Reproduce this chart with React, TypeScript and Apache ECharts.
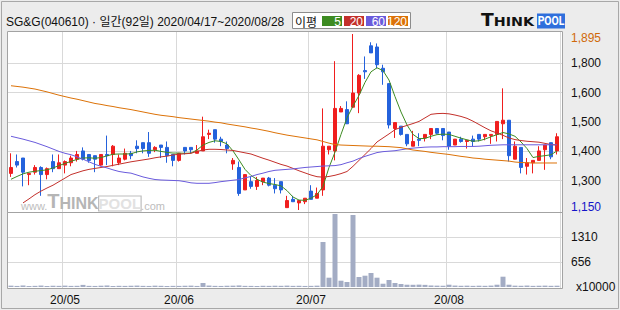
import { useEffect, useRef } from 'react';
import * as echarts from 'echarts';

// ---------------- data ----------------
const DATES = [
  '04/17','04/20','04/21','04/22','04/23','04/24','04/27','04/28','04/29',
  '05/04','05/06','05/07','05/08','05/11','05/12','05/13','05/14','05/15','05/18','05/19','05/20','05/21','05/22','05/25','05/26','05/27','05/28','05/29',
  '06/01','06/02','06/03','06/04','06/05','06/08','06/09','06/10','06/11','06/12','06/15','06/16','06/17','06/18','06/19','06/22','06/23','06/24','06/25','06/26','06/29','06/30',
  '07/01','07/02','07/03','07/06','07/07','07/08','07/09','07/10','07/13','07/14','07/15','07/16','07/17','07/20','07/21','07/22','07/23','07/24','07/27','07/28','07/29','07/30','07/31',
  '08/03','08/04','08/05','08/06','08/07','08/10','08/11','08/12','08/13','08/14','08/18','08/19','08/20','08/21','08/24','08/25','08/26','08/27','08/28',
];

const OPEN = [
  1305,1355,1370,1300,1310,1330,1300,1355,1325,1340,
  1350,1365,1400,1385,1380,1340,1385,1385,1350,1365,
  1390,1420,1435,1435,1405,1425,1415,1385,1360,1415,
  1415,1390,1400,1470,1490,1450,1425,1345,1330,1235,
  1270,1250,1270,1285,1255,1270,1160,1195,1180,1185,
  1230,1200,1235,1405,1400,1565,1575,1585,1645,1740,
  1845,1840,1750,1685,1495,1505,1470,1420,1450,1455,
  1470,1495,1495,1480,1425,1450,1440,1450,1470,1460,
  1465,1470,1515,1530,1365,1415,1335,1350,1360,1405,
  1435,1400,
];
const CLOSE = [
  1330,1340,1310,1305,1330,1300,1325,1325,1350,1355,
  1370,1385,1365,1360,1365,1385,1380,1420,1370,1390,
  1380,1410,1410,1390,1415,1415,1380,1360,1390,1400,
  1405,1400,1460,1475,1450,1440,1410,1360,1220,1300,
  1250,1275,1285,1255,1240,1235,1190,1185,1190,1200,
  1195,1220,1420,1420,1580,1580,1515,1645,1720,1735,
  1815,1765,1735,1510,1520,1470,1430,1440,1445,1470,
  1495,1475,1465,1420,1450,1440,1445,1440,1450,1470,
  1470,1525,1530,1380,1420,1330,1350,1360,1400,1425,
  1375,1460,
];
const LOW = [
  1290,1330,1250,1255,1300,1210,1280,1310,1325,1305,
  1335,1355,1360,1350,1310,1335,1340,1335,1340,1360,
  1365,1390,1390,1375,1395,1370,1350,1335,1355,1385,
  1390,1390,1400,1450,1435,1420,1390,1320,1210,1235,
  1240,1235,1255,1250,1220,1220,1160,1185,1150,1175,
  1195,1200,1210,1385,1360,1565,1515,1585,1560,1705,
  1815,1750,1680,1495,1455,1465,1420,1420,1420,1440,
  1450,1470,1445,1405,1425,1435,1410,1420,1440,1445,
  1430,1440,1450,1355,1365,1305,1300,1305,1360,1320,
  1365,1385,
];
const HIGH = [
  1390,1385,1370,1305,1340,1335,1330,1385,1385,1360,
  1380,1400,1415,1385,1380,1385,1465,1425,1385,1410,
  1400,1445,1435,1480,1420,1425,1440,1385,1390,1415,
  1415,1425,1545,1490,1490,1460,1440,1370,1355,1300,
  1290,1290,1285,1290,1285,1270,1210,1210,1190,1200,
  1255,1245,1580,1420,1780,1590,1610,1895,1725,1800,
  1860,1855,1765,1685,1520,1505,1470,1485,1475,1470,
  1495,1495,1495,1480,1450,1460,1445,1465,1470,1470,
  1470,1525,1665,1530,1440,1415,1370,1360,1420,1425,
  1435,1475,
];

// volume, x10000 shares
const VOLUME = [
  35,28,40,25,30,38,27,33,30,36,
  29,31,55,30,28,34,40,26,31,29,
  33,37,30,28,35,31,27,30,29,33,
  36,28,105,38,30,28,33,35,41,30,
  29,27,32,30,34,31,36,30,32,28,
  30,35,1180,244,1913,165,131,1887,262,296,
  367,244,86,183,105,79,60,58,62,56,
  40,36,33,60,38,32,35,30,34,31,
  37,60,270,60,35,32,38,30,33,36,
  31,34,
];

const MA5 = [
  1280,1292,1303,1310,1314,1317,1320,1328,1338,1347,
  1356,1364,1370,1371,1369,1372,1379,1386,1387,1387,
  1388,1396,1400,1402,1403,1398,1394,1391,1391,1390,
  1391,1404,1425,1436,1443,1440,1430,1400,1362,1322,
  1296,1280,1268,1262,1258,1252,1232,1205,1192,1191,
  1200,1215,1250,1330,1395,1470,1540,1590,1635,1690,
  1735,1752,1740,1700,1630,1565,1510,1470,1452,1453,
  1462,1469,1471,1470,1462,1454,1447,1441,1443,1450,
  1460,1469,1478,1472,1462,1438,1410,1372,1377,1380,
  1384,1400,
];
const MA20: (number | string)[] = [
  '-','-',1180,1197,1215,1230,1243,1255,1270,1285,
  1300,1308,1316,1322,1326,1330,1334,1339,1344,1349,
  1354,1358,1362,1366,1371,1375,1378,1383,1386,1388,
  1390,1398,1404,1407,1407,1406,1404,1402,1397,1392,
  1387,1378,1369,1361,1352,1343,1336,1326,1316,1307,
  1298,1291,1289,1292,1297,1304,1313,1335,1360,1385,
  1410,1438,1455,1472,1490,1500,1508,1516,1525,1540,
  1555,1558,1559,1557,1552,1546,1538,1526,1512,1498,
  1485,1476,1466,1455,1448,1444,1441,1439,1437,1432,
  1427,1425,
];
const MA60 = [
  1462,1456,1450,1443,1436,1427,1418,1408,1398,1390,
  1384,1375,1365,1354,1343,1335,1328,1320,1313,1309,
  1306,1298,1290,1284,1279,1277,1276,1275,1274,1270,
  1265,1263,1263,1263,1266,1270,1273,1276,1279,1286,
  1292,1300,1306,1313,1318,1320,1322,1324,1327,1330,
  1332,1334,1336,1337,1338,1342,1350,1357,1368,1377,
  1385,1393,1397,1399,1401,1405,1409,1412,1414,1416,
  1417,1417,1418,1418,1418,1419,1419,1419,1420,1422,
  1424,1425,1426,1426,1426,1426,1426,1426,1426,1426,
  1426,1426,
];
const MA120 = [
  1676,1673,1670,1666,1662,1656,1650,1643,1636,1630,
  1624,1619,1613,1607,1601,1597,1592,1588,1583,1579,
  1575,1570,1565,1560,1555,1551,1548,1545,1541,1538,
  1535,1532,1529,1526,1522,1519,1514,1510,1506,1502,
  1497,1493,1488,1483,1477,1472,1467,1463,1459,1455,
  1451,1447,1440,1433,1427,1425,1424,1423,1422,1421,
  1420,1420,1419,1418,1416,1414,1409,1404,1401,1398,
  1394,1391,1388,1385,1381,1377,1374,1370,1368,1365,
  1363,1361,1359,1357,1353,1351,1350,1349,1349,1349,
  1349,1349,
];

const MA_PERIODS = ['5', '20', '60', '120'];
const PRICE_MIN = 1150;
const PRICE_MAX = 1895;
const PRICE_TICK_LABELS = ['1,150', '1,300', '1,400', '1,500', '1,600', '1,800', '1,895'];
const VOL_MAX = 1966;
const VOL_TICK_LABELS = ['x10000', '656', '1310', ''];
const TITLE = 'SG&G(040610) · 일간(92일) 2020/04/17~2020/08/28';

// ---------------- styles ----------------
const UP = '#f01e1e';
const DOWN = '#2462dc';
const MA_COLORS = ['#3d8b22', '#c3302b', '#6a5bdc', '#dc7208'];
const GRID_LINE = '#d9d9d9';
const BORDER = '#a3a3a3';
const FONT = '"Liberation Sans", "Noto Sans CJK KR", sans-serif';

function isMonthStart(i: number) {
  return i > 0 && DATES[i].slice(0, 2) !== DATES[i - 1].slice(0, 2);
}

export default function App() {
  const ref = useRef<HTMLDivElement>(null);

  useEffect(() => {
    document.body.style.margin = '0';
    const chart = echarts.init(ref.current!, null, { renderer: 'svg' });
    const pInt = (PRICE_MAX - PRICE_MIN) / 6;
    const vInt = VOL_MAX / 3;

    const legend: any[] = [
      { type: 'rect', z: 10, shape: { x: 292.5, y: 12.5, width: 118, height: 16 }, style: { fill: '#fff', stroke: '#8c8c8c', lineWidth: 1 } },
      { type: 'text', z: 11, x: 295, y: 21, style: { text: '이평', fill: '#111', fontSize: 12, fontFamily: '"Noto Sans CJK KR"', verticalAlign: 'middle', textVerticalAlign: 'middle' } },
    ];
    MA_PERIODS.forEach((p, k) => {
      const bx = 322 + 22 * k;
      legend.push({ type: 'rect', z: 11, shape: { x: bx, y: 16, width: 20, height: 10 }, style: { fill: MA_COLORS[k] } });
      legend.push({ type: 'text', z: 12, x: bx + 19, y: 21.5, style: { text: p, fill: '#fff', fontSize: 12, fontFamily: FONT, align: 'right', textAlign: 'right', verticalAlign: 'middle', textVerticalAlign: 'middle' } });
    });

    const graphics: any[] = [
      { type: 'rect', z: -10, silent: true, shape: { x: 7, y: 31, width: 556, height: 257 }, style: { fill: '#ffffff' } },
      { type: 'rect', z: 50, silent: true, shape: { x: 7.5, y: 31.5, width: 555, height: 181 }, style: { fill: 'none', stroke: BORDER, lineWidth: 1 } },
      { type: 'rect', z: 50, silent: true, shape: { x: 7.5, y: 212.5, width: 555, height: 76 }, style: { fill: 'none', stroke: BORDER, lineWidth: 1 } },
      { type: 'rect', z: 50, silent: true, shape: { x: 1.5, y: 1.5, width: 617, height: 307 }, style: { fill: 'none', stroke: '#a8a8a8', lineWidth: 1 } },
      { type: 'text', z: 10, x: 6, y: 22, style: { text: TITLE, fill: '#111', fontSize: 12, fontFamily: FONT, verticalAlign: 'middle', textVerticalAlign: 'middle' } },
      ...legend,
      // logo
      {
        type: 'text', z: 10, x: 481, y: 28, scaleX: 1.1,
        style: {
          text: '{t|T}{h|HINK}', fill: '#111', verticalAlign: 'bottom', textVerticalAlign: 'bottom',
          rich: {
            t: { fontSize: 17, fontWeight: 'bold', fontFamily: '"DejaVu Sans"', fill: '#111', verticalAlign: 'bottom' },
            h: { fontSize: 13, fontWeight: 'bold', fontFamily: '"DejaVu Sans"', fill: '#111', verticalAlign: 'bottom' },
          },
        },
      },
      { type: 'rect', z: 10, shape: { x: 537, y: 13.5, width: 28, height: 15 }, style: { fill: '#2f6fdc' } },
      { type: 'text', z: 11, x: 551, y: 21.5, scaleX: 0.87, style: { text: 'POOL', fill: '#fff', fontSize: 12, fontWeight: 'bold', fontFamily: 'Roboto', align: 'center', textAlign: 'center', verticalAlign: 'middle', textVerticalAlign: 'middle' } },
      // watermark
      {
        type: 'text', z: 1, x: 21, y: 211, silent: true,
        style: {
          text: '{w|www.}{t|T}{h|HINK}{p|POOL}{c|.com}', verticalAlign: 'bottom', textVerticalAlign: 'bottom',
          rich: {
            w: { fontSize: 11, fontFamily: FONT, fill: '#bdbdbd', verticalAlign: 'bottom' },
            t: { fontSize: 20, fontWeight: 'bold', fontFamily: FONT, fill: '#b5b5b5', verticalAlign: 'bottom' },
            h: { fontSize: 16, fontWeight: 'bold', fontFamily: FONT, fill: '#b5b5b5', verticalAlign: 'bottom' },
            p: { fontSize: 15, fontWeight: 'bold', fontFamily: FONT, fill: '#e2e2e2', textBorderColor: '#bdbdbd', textBorderWidth: 1.2, verticalAlign: 'bottom' },
            c: { fontSize: 11, fontFamily: FONT, fill: '#bdbdbd', verticalAlign: 'bottom' },
          },
        },
      },
    ];

    const lineSeries = [MA5, MA20, MA60, MA120].map((d, k) => ({
      type: 'line',
      name: 'MA' + MA_PERIODS[k],
      xAxisIndex: 0,
      yAxisIndex: 0,
      data: d,
      symbol: 'none',
      showSymbol: false,
      z: 3,
      lineStyle: { color: MA_COLORS[k], width: 1 },
      itemStyle: { color: MA_COLORS[k] },
    }));

    const option: any = {
      animation: false,
      backgroundColor: '#ececec',
      textStyle: { fontFamily: FONT },
      grid: [
        { left: 8, top: 34, width: 552, height: 176 },
        { left: 8, top: 212, width: 552, height: 75 },
        { left: 7, top: 34, width: 556, height: 176 },
        { left: 7, top: 212, width: 556, height: 75 },
        { left: 8, top: 31, width: 552, height: 257 },
      ],
      xAxis: [
        { type: 'category', gridIndex: 0, data: DATES, show: false },
        {
          type: 'category', gridIndex: 1, data: DATES,
          axisLine: { show: false }, axisTick: { show: false }, splitLine: { show: false },
          axisLabel: {
            interval: (i: number) => isMonthStart(i),
            formatter: (v: string) => '20/' + v.slice(0, 2),
            color: '#111', fontSize: 12, fontFamily: FONT, margin: 7,
          },
        },
        { type: 'value', gridIndex: 2, show: false, min: 0, max: 1 },
        { type: 'value', gridIndex: 3, show: false, min: 0, max: 1 },
        {
          type: 'category', gridIndex: 4, data: DATES,
          axisLine: { show: false }, axisTick: { show: false }, axisLabel: { show: false },
          splitLine: { show: true, interval: (i: number) => isMonthStart(i), lineStyle: { color: GRID_LINE, width: 1 } },
        },
      ],
      yAxis: [
        {
          type: 'value', gridIndex: 0, position: 'right', min: PRICE_MIN, max: PRICE_MAX, interval: pInt,
          axisLine: { show: false }, axisTick: { show: false }, splitLine: { show: false },
          axisLabel: {
            margin: 11, color: '#111', fontSize: 12, fontFamily: FONT,
            formatter: (v: number) => {
              const k = Math.round((v - PRICE_MIN) / pInt);
              const t = PRICE_TICK_LABELS[k] ?? '';
              if (k === 0) return '{lo|' + t + '}';
              if (k === 6) return '{hi|' + t + '}';
              return t;
            },
            rich: {
              hi: { color: '#d0690a', fontSize: 12, fontFamily: FONT, padding: [8, 0, 0, 0] },
              lo: { color: '#1414c8', fontSize: 12, fontFamily: FONT, padding: [0, 0, 7, 0] },
            },
          },
        },
        {
          type: 'value', gridIndex: 1, position: 'right', min: 0, max: VOL_MAX, interval: vInt,
          axisLine: { show: false }, axisTick: { show: false }, splitLine: { show: false },
          axisLabel: {
            margin: 11, color: '#111', fontSize: 12, fontFamily: FONT, showMaxLabel: false,
            formatter: (v: number) => {
              const k = Math.round(v / vInt);
              const t = VOL_TICK_LABELS[k] ?? '';
              return k === 0 ? '{u|' + t + '}' : t;
            },
            rich: { u: { color: '#111', fontSize: 12, fontFamily: FONT, padding: [0, 0, 0, 5] } },
          },
        },
        {
          type: 'value', gridIndex: 2, min: PRICE_MIN, max: PRICE_MAX, interval: pInt,
          axisLine: { show: false }, axisTick: { show: false }, axisLabel: { show: false },
          splitLine: { show: true, showMinLine: false, showMaxLine: false, lineStyle: { color: GRID_LINE, width: 1 } },
        },
        {
          type: 'value', gridIndex: 3, min: 0, max: VOL_MAX, interval: vInt,
          axisLine: { show: false }, axisTick: { show: false }, axisLabel: { show: false },
          splitLine: { show: true, showMinLine: false, showMaxLine: false, lineStyle: { color: GRID_LINE, width: 1 } },
        },
        { type: 'value', gridIndex: 4, show: false, min: 0, max: 1, splitLine: { show: false } },
      ],
      series: [
        {
          type: 'candlestick',
          name: 'SG&G',
          xAxisIndex: 0,
          yAxisIndex: 0,
          barWidth: 4,
          z: 2,
          data: DATES.map((_, i) => [OPEN[i], CLOSE[i], LOW[i], HIGH[i]]),
          itemStyle: { color: UP, color0: DOWN, borderColor: UP, borderColor0: DOWN, borderWidth: 1 },
        },
        ...lineSeries,
        {
          type: 'bar',
          name: 'Volume',
          xAxisIndex: 1,
          yAxisIndex: 1,
          barWidth: 5,
          data: VOLUME,
          itemStyle: { color: '#a3acc4' },
        },
      ],
      graphic: { elements: graphics },
    };

    chart.setOption(option);
    return () => chart.dispose();
  }, []);

  return <div ref={ref} style={{ width: 620, height: 310 }} />;
}
